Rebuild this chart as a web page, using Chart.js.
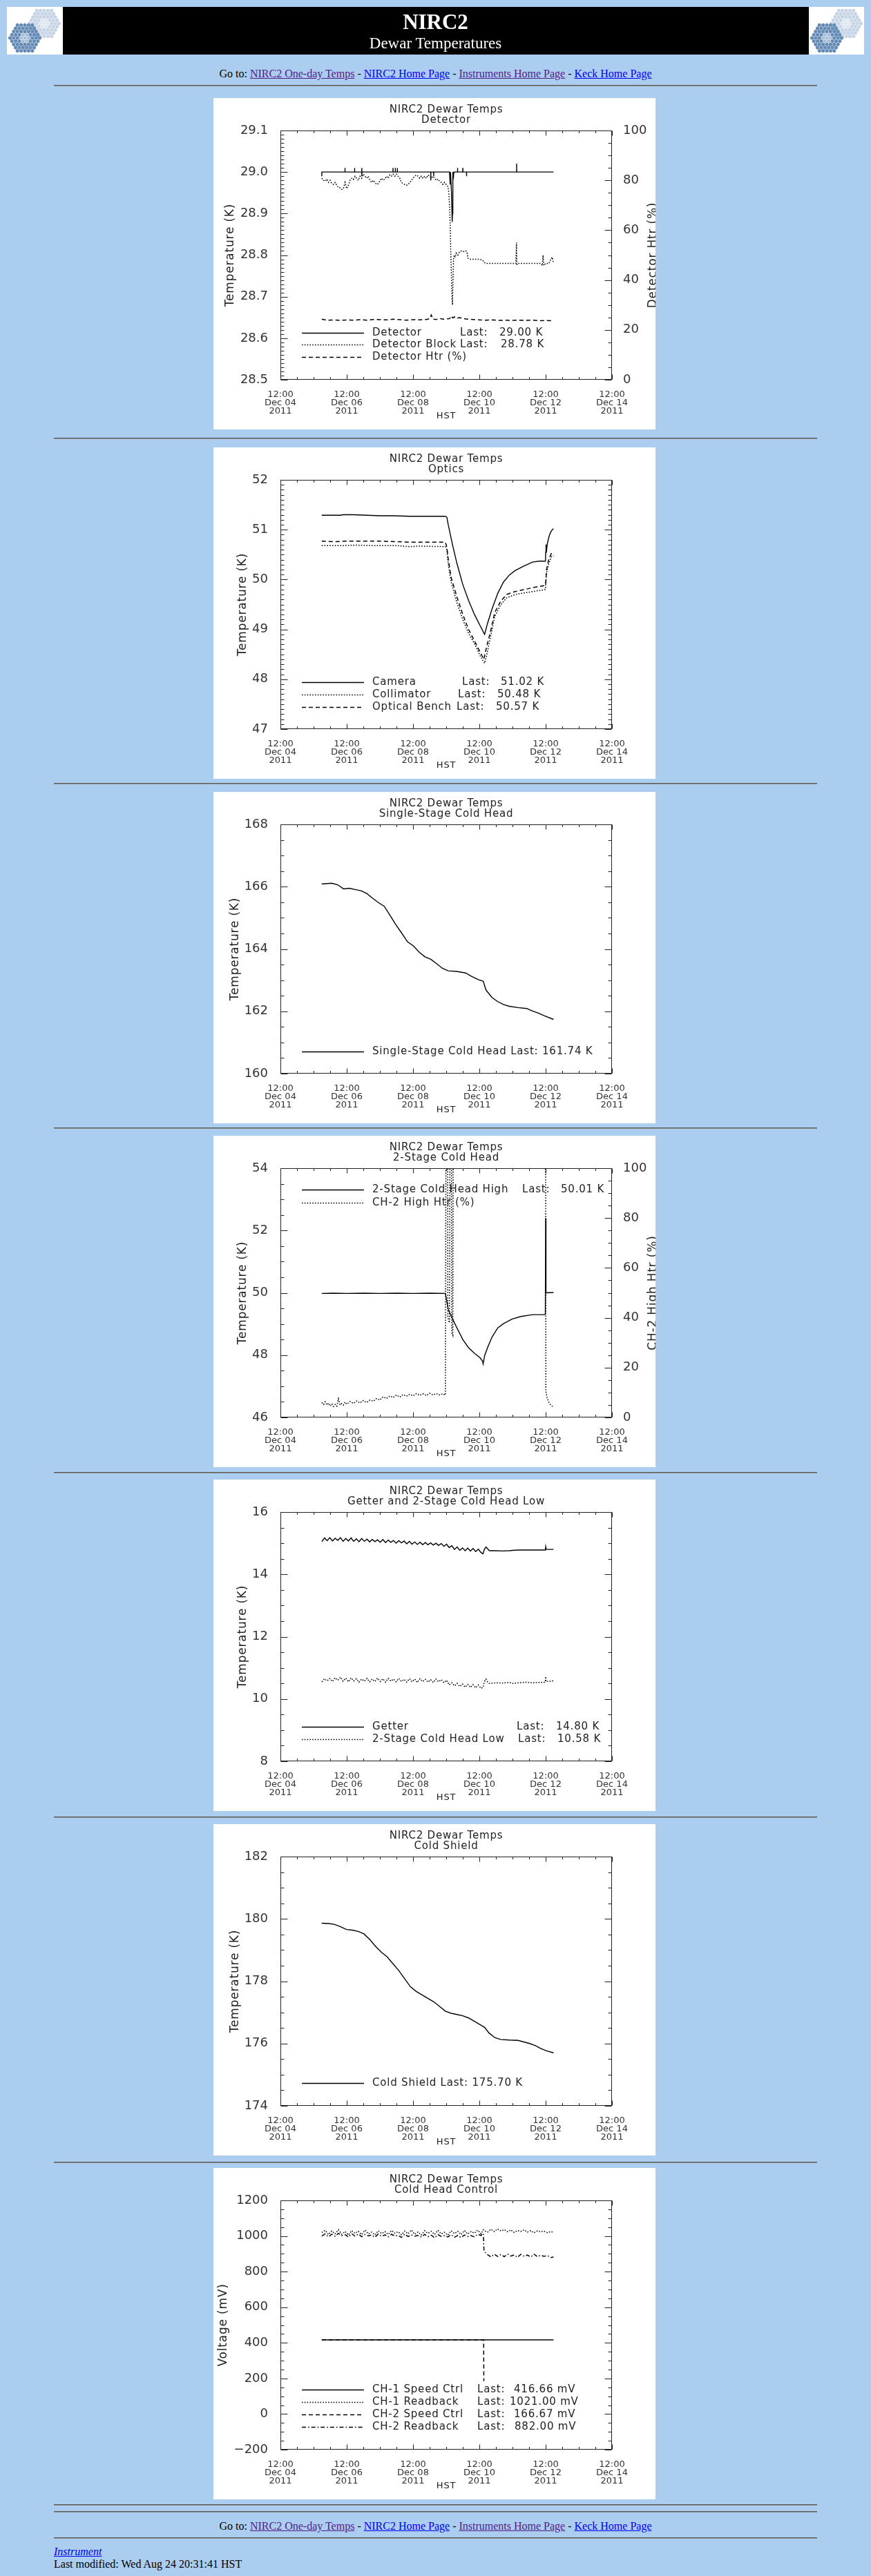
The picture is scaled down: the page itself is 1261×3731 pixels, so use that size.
<!DOCTYPE html>
<html><head><meta charset="utf-8">
<title>NIRC2 Dewar Temperatures</title>
<script src="https://cdn.jsdelivr.net/npm/chart.js@4.4.1/dist/chart.umd.min.js"></script>
<style>
html,body{margin:0;padding:0;background:#abcdef;}
body{position:relative;width:1261px;height:3731px;overflow:hidden;font-family:"Liberation Serif","Times New Roman",serif;}
.abs{position:absolute;}
.hr{position:absolute;left:78px;width:1105px;height:0;border-top:1px solid #5a5a5a;border-bottom:1px solid #8c8c8c;}
.nav{position:absolute;left:0;width:1261px;text-align:center;font-size:16px;line-height:18px;color:#000;white-space:nowrap;}
a.v{color:#551a8b;} a.u{color:#0000ee;}
canvas.panel{position:absolute;left:309px;background:#fff;}
</style></head>
<body>
<canvas id="logoL" class="abs" width="81" height="69" style="left:10px;top:10px"></canvas>
<div class="abs" style="left:91px;top:10px;width:1080px;height:69px;background:#000"></div>
<canvas id="logoR" class="abs" width="80" height="69" style="left:1171px;top:10px"></canvas>
<div class="abs" style="left:0;top:15px;width:1261px;text-align:center;color:#fff;font:bold 31px 'Liberation Serif';line-height:34px">NIRC2</div>
<div class="abs" style="left:0;top:50px;width:1261px;text-align:center;color:#fff;font:23px 'Liberation Serif';line-height:26px">Dewar Temperatures</div>
<div class="nav" style="top:98px">Go to: <a class="v" href="#">NIRC2 One-day Temps</a> - <a class="u" href="#">NIRC2 Home Page</a> - <a class="v" href="#">Instruments Home Page</a> - <a class="u" href="#">Keck Home Page</a></div>
<div class="hr" style="top:123px"></div>

<canvas id="c1" class="panel" width="640" height="480" style="top:142px"></canvas>
<div class="hr" style="top:634px"></div>
<canvas id="c2" class="panel" width="640" height="480" style="top:648px"></canvas>
<div class="hr" style="top:1134px"></div>
<canvas id="c3" class="panel" width="640" height="480" style="top:1147px"></canvas>
<div class="hr" style="top:1633px"></div>
<canvas id="c4" class="panel" width="640" height="480" style="top:1645px"></canvas>
<div class="hr" style="top:2132px"></div>
<canvas id="c5" class="panel" width="640" height="480" style="top:2143px"></canvas>
<div class="hr" style="top:2631px"></div>
<canvas id="c6" class="panel" width="640" height="480" style="top:2642px"></canvas>
<div class="hr" style="top:3131px"></div>
<canvas id="c7" class="panel" width="640" height="480" style="top:3140px"></canvas>
<div class="hr" style="top:3627px"></div>
<div class="hr" style="top:3637px"></div>
<div class="nav" style="top:3650px">Go to: <a class="v" href="#">NIRC2 One-day Temps</a> - <a class="u" href="#">NIRC2 Home Page</a> - <a class="v" href="#">Instruments Home Page</a> - <a class="u" href="#">Keck Home Page</a></div>
<div class="hr" style="top:3675px"></div>
<div class="abs" style="left:78px;top:3687px;font-size:16px;line-height:18px"><a class="u" href="#"><i>Instrument</i></a></div>
<div class="abs" style="left:78px;top:3705px;font-size:16px;line-height:18px;color:#000">Last modified: Wed Aug 24 20:31:41 HST</div>

<script>
// ---------- shared axis data ----------
const xTickDays = [0, 2, 4, 6, 8, 10];
const xTickLabels = [["12:00","Dec 04","2011"],["12:00","Dec 06","2011"],["12:00","Dec 08","2011"],["12:00","Dec 10","2011"],["12:00","Dec 12","2011"],["12:00","Dec 14","2011"]];
const pctMajor = [0, 20, 40, 60, 80, 100];
const pctLabels = ["0","20","40","60","80","100"];

// ---------- Panel 1: Detector (x = days since Dec 04 12:00 HST) ----------
const p1YMajor = [28.5, 28.6, 28.7, 28.8, 28.9, 29.0, 29.1];
const p1YLabels = ["28.5","28.6","28.7","28.8","28.9","29.0","29.1"];
const detector = [[1.246,28.99],[1.25,29.0],[1.945,29.0],[1.947,29.01],[1.95,29.0],[2.235,29.0],[2.237,29.01],[2.24,29.0],[2.452,29.0],[2.454,29.01],[2.456,28.99],[2.46,29.0],[3.393,29.0],[3.395,29.01],[3.398,29.0],[3.463,29.0],[3.465,29.01],[3.468,29.0],[3.524,29.0],[3.526,29.01],[3.529,29.0],[4.533,29.0],[4.535,28.98],[4.538,29.0],[4.62,29.0],[4.623,28.99],[4.626,29.0],[5.1,29.0],[5.12,28.97],[5.13,29.0],[5.16,28.95],[5.18,28.88],[5.19,28.9],[5.2,29.0],[5.22,28.99],[5.23,29.0],[5.34,29.0],[5.342,29.01],[5.345,29.0],[5.498,29.0],[5.5,29.01],[5.503,29.0],[5.612,29.0],[5.614,28.99],[5.617,29.0],[7.12,29.0],[7.123,29.02],[7.126,29.0],[8.237,29.0]];
const detectorBlock = [[1.246,28.985],[1.3,28.98],[1.35,28.978],[1.4,28.983],[1.45,28.975],[1.5,28.98],[1.55,28.972],[1.6,28.97],[1.65,28.975],[1.7,28.968],[1.75,28.963],[1.8,28.962],[1.85,28.958],[1.9,28.96],[1.95,28.975],[2.0,28.96],[2.05,28.968],[2.1,28.98],[2.15,28.985],[2.2,28.982],[2.25,28.99],[2.3,28.985],[2.35,28.98],[2.4,28.99],[2.45,28.985],[2.5,28.995],[2.55,28.99],[2.6,28.985],[2.65,28.99],[2.7,28.98],[2.75,28.975],[2.8,28.98],[2.85,28.975],[2.9,28.97],[2.95,28.972],[3.0,28.978],[3.05,28.985],[3.1,28.98],[3.15,28.983],[3.2,28.99],[3.25,28.985],[3.3,28.993],[3.35,28.99],[3.4,28.995],[3.45,28.99],[3.5,28.995],[3.55,28.99],[3.6,28.985],[3.65,28.975],[3.7,28.972],[3.75,28.97],[3.8,28.968],[3.85,28.97],[3.9,28.975],[3.95,28.98],[4.0,28.985],[4.05,28.99],[4.1,28.993],[4.15,28.99],[4.2,28.985],[4.25,28.99],[4.3,28.985],[4.35,28.99],[4.4,28.985],[4.45,28.993],[4.5,28.99],[4.55,28.985],[4.6,28.99],[4.65,28.985],[4.7,28.98],[4.75,28.983],[4.8,28.978],[4.85,28.975],[4.9,28.97],[4.95,28.975],[5.0,28.97],[5.05,28.965],[5.08,28.95],[5.1,28.92],[5.12,28.87],[5.14,28.8],[5.16,28.74],[5.18,28.69],[5.19,28.68],[5.2,28.72],[5.22,28.79],[5.24,28.8],[5.27,28.795],[5.3,28.805],[5.35,28.8],[5.4,28.808],[5.45,28.81],[5.5,28.81],[5.55,28.808],[5.6,28.81],[5.63,28.806],[5.66,28.792],[5.7,28.79],[5.8,28.79],[5.9,28.79],[6.0,28.79],[6.1,28.788],[6.15,28.782],[6.2,28.78],[6.4,28.78],[6.6,28.78],[6.8,28.78],[7.0,28.78],[7.1,28.78],[7.12,28.83],[7.13,28.775],[7.14,28.78],[7.4,28.78],[7.6,28.78],[7.85,28.78],[7.9,28.775],[7.92,28.8],[7.94,28.775],[8.0,28.78],[8.1,28.78],[8.15,28.79],[8.2,28.795],[8.237,28.78]];
const detectorHtr = [[1.246,24.3],[1.4,23.9],[1.6,24.0],[1.8,23.8],[2.0,24.0],[2.2,23.9],[2.4,24.1],[2.6,23.9],[2.8,24.2],[3.0,24.1],[3.2,24.0],[3.4,24.3],[3.6,24.1],[3.8,23.9],[4.0,24.1],[4.2,24.0],[4.4,24.2],[4.5,24.5],[4.55,26.0],[4.6,24.3],[4.7,24.2],[4.8,24.6],[4.9,24.3],[5.0,24.4],[5.1,24.5],[5.15,25.6],[5.2,24.8],[5.25,25.2],[5.3,24.6],[5.4,24.9],[5.5,24.6],[5.6,24.4],[5.8,24.2],[6.0,24.0],[6.2,23.9],[6.4,24.0],[6.6,23.8],[6.8,23.9],[7.0,23.8],[7.2,23.9],[7.4,23.8],[7.6,23.9],[7.8,23.7],[8.0,23.8],[8.237,23.6]];

// ---------- Panel 2: Optics ----------
const p2YMajor = [47, 48, 49, 50, 51, 52];
const p2YLabels = ["47","48","49","50","51","52"];
const camera = [[1.246,51.29],[1.5,51.29],[1.8,51.29],[1.9,51.3],[2.2,51.3],[2.6,51.29],[3.0,51.28],[3.4,51.28],[3.9,51.27],[4.4,51.27],[4.97,51.27],[5.02,51.25],[5.061,51.1],[5.193,50.69],[5.325,50.32],[5.5,49.9],[5.675,49.58],[5.851,49.3],[6.026,49.07],[6.158,48.9],[6.246,49.12],[6.377,49.4],[6.553,49.72],[6.728,49.95],[6.904,50.09],[7.079,50.18],[7.342,50.27],[7.605,50.35],[7.8,50.37],[7.995,50.37],[8.0,50.55],[8.01,50.7],[8.03,50.6],[8.05,50.72],[8.1,50.86],[8.15,50.95],[8.2,51.0],[8.237,51.02]];
const collimator = [[1.246,50.68],[1.8,50.68],[2.3,50.69],[2.8,50.68],[3.5,50.68],[3.9,50.66],[4.2,50.67],[4.974,50.66],[5.02,50.6],[5.061,50.31],[5.149,49.95],[5.325,49.53],[5.5,49.2],[5.675,48.92],[5.851,48.72],[6.026,48.47],[6.158,48.32],[6.246,48.56],[6.333,48.84],[6.465,49.26],[6.64,49.49],[6.816,49.63],[7.079,49.7],[7.43,49.74],[7.7,49.77],[7.995,49.8],[8.026,50.13],[8.088,50.31],[8.175,50.46],[8.237,50.48]];
const opticalBench = [[1.246,50.77],[1.6,50.76],[2.0,50.77],[2.5,50.77],[3.0,50.77],[3.5,50.76],[3.9,50.75],[4.5,50.75],[4.974,50.75],[5.02,50.65],[5.061,50.41],[5.149,50.04],[5.325,49.65],[5.5,49.3],[5.675,49.0],[5.851,48.77],[6.026,48.54],[6.132,48.4],[6.219,48.65],[6.333,48.95],[6.465,49.34],[6.64,49.56],[6.816,49.7],[7.079,49.76],[7.43,49.81],[7.7,49.85],[7.995,49.88],[8.026,50.2],[8.088,50.39],[8.175,50.53],[8.237,50.55]];

// ---------- Panel 3: Single-Stage Cold Head ----------
const p3YMajor = [160, 162, 164, 166, 168];
const p3YLabels = ["160","162","164","166","168"];
const singleStage = [[1.246,166.09],[1.553,166.11],[1.728,166.06],[1.904,165.93],[2.079,165.95],[2.254,165.91],[2.43,165.87],[2.605,165.78],[2.781,165.63],[2.956,165.49],[3.132,165.37],[3.307,165.08],[3.482,164.78],[3.658,164.51],[3.833,164.23],[4.009,164.1],[4.184,163.9],[4.36,163.75],[4.535,163.67],[4.711,163.53],[4.886,163.38],[5.061,163.3],[5.325,163.28],[5.588,163.23],[5.763,163.12],[5.982,163.01],[6.114,162.97],[6.202,162.68],[6.377,162.45],[6.553,162.31],[6.728,162.22],[6.904,162.16],[7.167,162.12],[7.43,162.09],[7.605,162.01],[7.781,161.94],[7.956,161.86],[8.237,161.74]];

// ---------- Panel 4: 2-Stage Cold Head ----------
const p4YMajor = [46, 48, 50, 52, 54];
const p4YLabels = ["46","48","50","52","54"];
const coldHeadHigh = [[1.246,49.98],[1.6,49.99],[2.0,49.98],[2.5,49.99],[3.0,49.98],[3.5,49.99],[4.0,49.98],[4.5,49.99],[4.974,49.98],[4.991,49.9],[5.061,49.46],[5.193,49.16],[5.325,48.87],[5.5,48.5],[5.675,48.24],[5.851,48.06],[6.026,47.91],[6.1,47.8],[6.114,47.72],[6.158,47.98],[6.246,48.24],[6.377,48.57],[6.553,48.87],[6.728,49.01],[6.991,49.16],[7.254,49.24],[7.605,49.3],[7.974,49.3],[7.99,49.32],[8.0,52.4],[8.009,50.0],[8.237,50.01]];
const ch2HighHtr = [[1.246,6.0],[1.3,5.2],[1.35,6.3],[1.4,5.0],[1.45,5.8],[1.5,4.6],[1.55,5.5],[1.6,4.4],[1.65,5.2],[1.7,4.5],[1.75,7.5],[1.8,5.0],[1.85,5.6],[1.9,5.0],[1.95,6.2],[2.0,5.3],[2.1,6.4],[2.2,5.6],[2.3,6.6],[2.4,5.8],[2.5,6.8],[2.6,6.0],[2.7,7.0],[2.8,6.5],[2.9,7.6],[3.0,7.0],[3.1,8.3],[3.2,7.6],[3.3,8.6],[3.4,8.0],[3.5,9.0],[3.6,8.2],[3.7,9.2],[3.8,8.5],[3.9,9.3],[4.0,8.7],[4.1,9.6],[4.2,8.9],[4.3,9.5],[4.4,8.8],[4.5,9.7],[4.6,9.0],[4.7,9.6],[4.8,9.0],[4.9,9.5],[4.974,9.0],[4.99,100],[5.04,100],[5.05,40],[5.1,38],[5.11,100],[5.16,100],[5.17,34],[5.2,33],[5.21,100],[7.99,100],[8.0,96],[8.005,10.5],[8.05,7.5],[8.1,6],[8.15,5],[8.2,4.5],[8.237,4]];

// ---------- Panel 5: Getter and 2-Stage Cold Head Low ----------
const p5YMajor = [8, 10, 12, 14, 16];
const p5YLabels = ["8","10","12","14","16"];
const getter = [[1.25,15.05],[1.33,15.17],[1.41,15.08],[1.49,15.18],[1.57,15.07],[1.65,15.16],[1.73,15.09],[1.81,15.18],[1.89,15.06],[1.97,15.15],[2.05,15.07],[2.13,15.17],[2.21,15.06],[2.29,15.14],[2.37,15.05],[2.45,15.15],[2.53,15.06],[2.61,15.13],[2.69,15.04],[2.77,15.12],[2.85,15.05],[2.93,15.11],[3.01,15.03],[3.09,15.12],[3.17,15.02],[3.25,15.1],[3.33,15.03],[3.41,15.09],[3.49,15.0],[3.57,15.08],[3.65,15.01],[3.73,15.07],[3.81,14.98],[3.89,15.06],[3.97,14.97],[4.05,15.04],[4.13,14.96],[4.21,15.03],[4.29,14.95],[4.37,15.02],[4.45,14.95],[4.53,15.01],[4.61,14.94],[4.69,15.0],[4.77,14.93],[4.85,14.99],[4.93,14.9],[5.01,14.97],[5.09,14.86],[5.17,14.92],[5.25,14.8],[5.33,14.88],[5.41,14.77],[5.49,14.85],[5.57,14.76],[5.65,14.84],[5.73,14.75],[5.81,14.83],[5.89,14.73],[5.97,14.81],[6.05,14.7],[6.11,14.66],[6.15,14.8],[6.2,14.88],[6.25,14.82],[6.3,14.76],[6.5,14.76],[6.7,14.75],[6.9,14.76],[7.0,14.77],[7.2,14.78],[7.4,14.78],[7.6,14.78],[7.8,14.78],[7.99,14.78],[8.0,14.88],[8.01,14.8],[8.237,14.8]];
const coldHeadLow = [[1.25,10.55],[1.33,10.65],[1.41,10.58],[1.49,10.66],[1.57,10.56],[1.65,10.68],[1.73,10.6],[1.81,10.7],[1.89,10.57],[1.97,10.67],[2.05,10.55],[2.13,10.68],[2.21,10.58],[2.29,10.65],[2.37,10.54],[2.45,10.64],[2.53,10.57],[2.61,10.66],[2.69,10.55],[2.77,10.64],[2.85,10.56],[2.93,10.67],[3.01,10.56],[3.09,10.65],[3.17,10.54],[3.25,10.66],[3.33,10.57],[3.41,10.64],[3.49,10.55],[3.57,10.66],[3.65,10.56],[3.73,10.63],[3.81,10.54],[3.89,10.65],[3.97,10.55],[4.05,10.64],[4.13,10.53],[4.21,10.65],[4.29,10.56],[4.37,10.63],[4.45,10.54],[4.53,10.62],[4.61,10.53],[4.69,10.64],[4.77,10.55],[4.85,10.62],[4.93,10.52],[5.01,10.6],[5.09,10.45],[5.17,10.52],[5.25,10.42],[5.33,10.5],[5.41,10.4],[5.49,10.48],[5.57,10.38],[5.65,10.47],[5.73,10.37],[5.81,10.46],[5.89,10.36],[5.97,10.45],[6.05,10.34],[6.11,10.38],[6.15,10.55],[6.2,10.64],[6.25,10.55],[6.3,10.5],[6.5,10.52],[6.7,10.51],[6.9,10.53],[7.0,10.5],[7.2,10.52],[7.4,10.54],[7.6,10.52],[7.8,10.53],[7.99,10.54],[8.0,10.72],[8.01,10.56],[8.237,10.58]];

// ---------- Panel 6: Cold Shield ----------
const p6YMajor = [174, 176, 178, 180, 182];
const p6YLabels = ["174","176","178","180","182"];
const coldShield = [[1.246,179.86],[1.465,179.85],[1.64,179.82],[1.816,179.75],[1.991,179.66],[2.167,179.64],[2.342,179.6],[2.518,179.52],[2.693,179.34],[2.868,179.12],[3.044,178.93],[3.219,178.78],[3.395,178.56],[3.57,178.34],[3.746,178.08],[3.921,177.82],[4.096,177.67],[4.272,177.56],[4.447,177.45],[4.623,177.34],[4.798,177.19],[4.974,177.04],[5.149,176.97],[5.325,176.93],[5.5,176.89],[5.675,176.82],[5.851,176.71],[6.026,176.6],[6.158,176.52],[6.289,176.34],[6.465,176.19],[6.64,176.13],[6.904,176.11],[7.167,176.1],[7.342,176.05],[7.518,176.0],[7.693,175.93],[7.868,175.83],[8.044,175.76],[8.237,175.7]];

// ---------- Panel 7: Cold Head Control ----------
const p7YMajor = [-200, 0, 200, 400, 600, 800, 1000, 1200];
const p7YLabels = ["\u2212200","0","200","400","600","800","1000","1200"];
const ch1SpeedCtrl = [[1.246,416.66],[8.237,416.66]];
const ch2SpeedCtrl = [[1.246,416.66],[6.13,416.66],[6.135,185]];
const ctrlTime = [1.25,1.35,1.45,1.55,1.65,1.75,1.85,1.95,2.05,2.15,2.25,2.35,2.45,2.55,2.65,2.75,2.85,2.95,3.05,3.15,3.25,3.35,3.45,3.55,3.65,3.75,3.85,3.95,4.05,4.15,4.25,4.35,4.45,4.55,4.65,4.75,4.85,4.95,5.05,5.15,5.25,5.35,5.45,5.55,5.65,5.75,5.85,5.95,6.05,6.12,6.14,6.25,6.35,6.45,6.55,6.65,6.75,6.85,6.95,7.05,7.15,7.25,7.35,7.45,7.55,7.65,7.75,7.85,7.95,8.05,8.15,8.237];
const ch1Readback = [1020,1032,1008,1028,1012,1035,1010,1026,1005,1030,1015,1027,1008,1033,1012,1022,1006,1029,1014,1025,1009,1031,1016,1024,1007,1028,1013,1034,1010,1023,1006,1030,1015,1026,1009,1032,1012,1021,1005,1029,1014,1027,1008,1031,1011,1025,1016,1033,1012,1035,1030,1022,1038,1025,1040,1028,1036,1024,1034,1020,1031,1026,1035,1022,1030,1018,1029,1024,1027,1019,1025,1021];
const ch2Readback = [1000,1012,995,1010,998,1015,1002,1008,994,1013,999,1011,996,1009,1001,1006,993,1012,998,1007,995,1010,1000,1004,992,1011,997,1006,999,1003,994,1009,996,1005,990,1008,998,1003,995,1007,993,1004,991,1006,997,1002,995,1010,1003,1015,915,895,882,898,885,896,884,899,887,894,880,897,886,893,882,898,884,892,886,890,879,882];

// ---------- rendering ----------
const INK = '#222';
const FONT = '"DejaVu Sans", Verdana, sans-serif';
const SOLID = [], DOT = [1.6, 2.2], DASH = [6, 4], DASHDOT = [6, 3, 1.6, 3];
const specs = {};

function pts(pairs) { return pairs.map(p => ({x: p[0], y: p[1]})); }
function zip(xs, ys) { return xs.map((x, i) => [x, ys[i]]); }
function ds(pairs, dash, axis) {
  return { data: pts(pairs), borderColor: '#000', backgroundColor: '#000', borderWidth: dash.length ? 1.5 : 1.4,
           borderDash: dash, pointRadius: 0, fill: false, tension: 0, yAxisID: axis || 'y' };
}
function tickCb(majors, labels) {
  return function (v) {
    for (let i = 0; i < majors.length; i++) if (Math.abs(majors[i] - v) < 1e-6) return labels[i];
    return '';
  };
}
function yScale(ax, pos) {
  return { type: 'linear', position: pos, min: ax.min, max: ax.max,
    afterFit: s => { s.width = pos === 'left' ? 97 : 63; },
    grid: { display: false }, border: { display: false },
    ticks: { stepSize: ax.step, autoSkip: false, padding: pos === 'left' ? 10 : 8, color: '#333',
             font: { family: FONT, size: 18 }, callback: tickCb(ax.majors, ax.labels) } };
}

const idlPlugin = {
  id: 'idlFrame',
  afterDraw(chart) {
    const sp = specs[chart.canvas.id]; if (!sp) return;
    const ctx = chart.ctx, a = chart.chartArea;
    ctx.save();
    ctx.strokeStyle = '#222'; ctx.lineWidth = 1; ctx.setLineDash([]);
    const L = Math.round(a.left) + 0.5, R = Math.round(a.right) - 0.5, T = Math.round(a.top) + 0.5, B = Math.round(a.bottom) - 0.5;
    ctx.strokeRect(L, T, R - L, B - T);
    const isMajor = t => Array.isArray(t.label) ? t.label.length > 0 : (t.label !== '' && t.label != null);
    ctx.beginPath();
    const xs = chart.scales.x;
    xs.ticks.forEach(t => {
      const px = Math.round(xs.getPixelForValue(t.value)) + 0.5, len = isMajor(t) ? 7 : 3.5;
      ctx.moveTo(px, B); ctx.lineTo(px, B - len); ctx.moveTo(px, T); ctx.lineTo(px, T + len);
    });
    const ys = chart.scales.y, y2 = chart.scales.y2;
    ys.ticks.forEach(t => {
      const py = Math.round(ys.getPixelForValue(t.value)) + 0.5, len = isMajor(t) ? 10 : 5;
      ctx.moveTo(L, py); ctx.lineTo(L + len, py);
      if (!y2) { ctx.moveTo(R, py); ctx.lineTo(R - len, py); }
    });
    if (y2) y2.ticks.forEach(t => {
      const py = Math.round(y2.getPixelForValue(t.value)) + 0.5, len = isMajor(t) ? 10 : 5;
      ctx.moveTo(R, py); ctx.lineTo(R - len, py);
    });
    ctx.stroke();

    ctx.fillStyle = INK;
    ctx.letterSpacing = '0.8px';
    ctx.textAlign = 'center'; ctx.textBaseline = 'middle';
    const cx = (a.left + a.right) / 2, cy = (a.top + a.bottom) / 2;
    ctx.font = '15px ' + FONT;
    ctx.fillText('NIRC2 Dewar Temps', cx, 17);
    ctx.fillText(sp.subtitle, cx, 32);
    ctx.font = '13px ' + FONT;
    ctx.fillText('HST', cx, 461);
    ctx.font = '17px ' + FONT;
    const rot = (txt, x) => { ctx.save(); ctx.translate(x, cy); ctx.rotate(-Math.PI / 2); ctx.fillText(txt, 0, 0); ctx.restore(); };
    rot(sp.yTitle, sp.yTitleX);
    if (sp.y2Title) rot(sp.y2Title, 637);

    ctx.font = '15px ' + FONT; ctx.textAlign = 'left';
    sp.legend.forEach(row => {
      ctx.beginPath(); ctx.setLineDash(row.dash); ctx.lineWidth = 1.4; ctx.strokeStyle = '#000';
      ctx.moveTo(128, row.y + 0.5); ctx.lineTo(218, row.y + 0.5); ctx.stroke();
      row.parts.forEach(p => ctx.fillText(p[0], p[1], row.y));
    });
    ctx.letterSpacing = '0px';
    ctx.restore();
  }
};
Chart.register(idlPlugin);

function make(id, sp) {
  specs[id] = sp;
  const scales = {
    x: { type: 'linear', min: 0, max: 10, afterFit: s => { s.height = 72; },
         grid: { display: false }, border: { display: false },
         ticks: { stepSize: 0.5, autoSkip: false, maxRotation: 0, minRotation: 0, padding: 8, color: '#333',
                  font: { family: FONT, size: 13, lineHeight: 0.9 }, callback: tickCb(xTickDays, xTickLabels) } },
    y: yScale(sp.y, 'left')
  };
  if (sp.y2) scales.y2 = yScale(sp.y2, 'right');
  new Chart(document.getElementById(id), {
    type: 'line',
    data: { datasets: sp.datasets },
    options: {
      responsive: false, animation: false, devicePixelRatio: 1,
      layout: { padding: { top: 47, right: sp.y2 ? 0 : 63, left: 0, bottom: 0 } },
      plugins: { legend: { display: false }, tooltip: { enabled: false }, title: { display: false } },
      elements: { point: { radius: 0 }, line: { tension: 0 } },
      scales: scales
    }
  });
}

const pctAxis = { min: 0, max: 100, step: 5, majors: pctMajor, labels: pctLabels };

make('c1', {
  subtitle: 'Detector', yTitle: 'Temperature (K)', yTitleX: 25, y2Title: 'Detector Htr (%)',
  y: { min: 28.5, max: 29.1, step: 0.01, majors: p1YMajor, labels: p1YLabels }, y2: pctAxis,
  datasets: [ds(detector, SOLID), ds(detectorBlock, DOT), ds(detectorHtr, DASH, 'y2')],
  legend: [
    { y: 340, dash: SOLID, parts: [['Detector', 230], ['Last:', 357], ['29.00 K', 414]] },
    { y: 357, dash: DOT, parts: [['Detector Block', 230], ['Last:', 357], ['28.78 K', 416]] },
    { y: 375, dash: DASH, parts: [['Detector Htr (%)', 230]] }
  ]
});
make('c2', {
  subtitle: 'Optics', yTitle: 'Temperature (K)', yTitleX: 43,
  y: { min: 47, max: 52, step: 0.1, majors: p2YMajor, labels: p2YLabels },
  datasets: [ds(camera, SOLID), ds(collimator, DOT), ds(opticalBench, DASH)],
  legend: [
    { y: 340, dash: SOLID, parts: [['Camera', 230], ['Last:', 360], ['51.02 K', 416]] },
    { y: 358, dash: DOT, parts: [['Collimator', 230], ['Last:', 354], ['50.48 K', 411]] },
    { y: 376, dash: DASH, parts: [['Optical Bench', 230], ['Last:', 352], ['50.57 K', 409]] }
  ]
});
make('c3', {
  subtitle: 'Single-Stage Cold Head', yTitle: 'Temperature (K)', yTitleX: 32,
  y: { min: 160, max: 168, step: 0.5, majors: p3YMajor, labels: p3YLabels },
  datasets: [ds(singleStage, SOLID)],
  legend: [ { y: 376, dash: SOLID, parts: [['Single-Stage Cold Head Last: 161.74 K', 230]] } ]
});
make('c4', {
  subtitle: '2-Stage Cold Head', yTitle: 'Temperature (K)', yTitleX: 43, y2Title: 'CH-2 High Htr (%)',
  y: { min: 46, max: 54, step: 0.5, majors: p4YMajor, labels: p4YLabels }, y2: pctAxis,
  datasets: [ds(coldHeadHigh, SOLID), ds(ch2HighHtr, DOT, 'y2')],
  legend: [
    { y: 78, dash: SOLID, parts: [['2-Stage Cold Head High', 230], ['Last:', 447], ['50.01 K', 503]] },
    { y: 97, dash: DOT, parts: [['CH-2 High Htr (%)', 230]] }
  ]
});
make('c5', {
  subtitle: 'Getter and 2-Stage Cold Head Low', yTitle: 'Temperature (K)', yTitleX: 43,
  y: { min: 8, max: 16, step: 0.5, majors: p5YMajor, labels: p5YLabels },
  datasets: [ds(getter, SOLID), ds(coldHeadLow, DOT)],
  legend: [
    { y: 358, dash: SOLID, parts: [['Getter', 230], ['Last:', 439], ['14.80 K', 496]] },
    { y: 376, dash: DOT, parts: [['2-Stage Cold Head Low', 230], ['Last:', 441], ['10.58 K', 498]] }
  ]
});
make('c6', {
  subtitle: 'Cold Shield', yTitle: 'Temperature (K)', yTitleX: 32,
  y: { min: 174, max: 182, step: 0.5, majors: p6YMajor, labels: p6YLabels },
  datasets: [ds(coldShield, SOLID)],
  legend: [ { y: 375, dash: SOLID, parts: [['Cold Shield Last: 175.70 K', 230]] } ]
});
make('c7', {
  subtitle: 'Cold Head Control', yTitle: 'Voltage (mV)', yTitleX: 15,
  y: { min: -200, max: 1200, step: 50, majors: p7YMajor, labels: p7YLabels },
  datasets: [ds(ch1SpeedCtrl, SOLID), ds(zip(ctrlTime, ch1Readback), DOT), ds(ch2SpeedCtrl, DASH), ds(zip(ctrlTime, ch2Readback), DASHDOT)],
  legend: [
    { y: 321, dash: SOLID, parts: [['CH-1 Speed Ctrl', 230], ['Last:', 382], ['416.66 mV', 435]] },
    { y: 339, dash: DOT, parts: [['CH-1 Readback', 230], ['Last:', 382], ['1021.00 mV', 429]] },
    { y: 357, dash: DASH, parts: [['CH-2 Speed Ctrl', 230], ['Last:', 382], ['166.67 mV', 435]] },
    { y: 375, dash: DASHDOT, parts: [['CH-2 Readback', 230], ['Last:', 382], ['882.00 mV', 436]] }
  ]
});

// ---------- header logos (decorative hexagon mosaic) ----------
function drawLogo(id) {
  const c = document.getElementById(id), g = c.getContext('2d');
  g.fillStyle = '#fff'; g.fillRect(0, 0, c.width, c.height);
  const r = 3.1, w = Math.sqrt(3) * r;
  function hex(x, y, col) {
    g.beginPath();
    for (let k = 0; k < 6; k++) { const ang = Math.PI / 180 * (60 * k - 90); g.lineTo(x + r * 0.92 * Math.cos(ang), y + r * 0.92 * Math.sin(ang)); }
    g.closePath(); g.fillStyle = col; g.fill();
  }
  function cluster(cx, cy, col, inner) {
    for (let q = -4; q <= 4; q++) for (let s = -4; s <= 4; s++) {
      const t = -q - s; if (Math.abs(t) > 4) continue;
      const ring = Math.max(Math.abs(q), Math.abs(s), Math.abs(t));
      hex(cx + w * (q + s / 2), cy + 1.5 * r * s, ring <= 1 ? inner : col);
    }
  }
  cluster(54, 24, '#c6d4e5', '#dfe7f0');
  cluster(26, 45, '#6389b5', '#a9bfd8');
}
drawLogo('logoL'); drawLogo('logoR');
</script>
</body></html>
